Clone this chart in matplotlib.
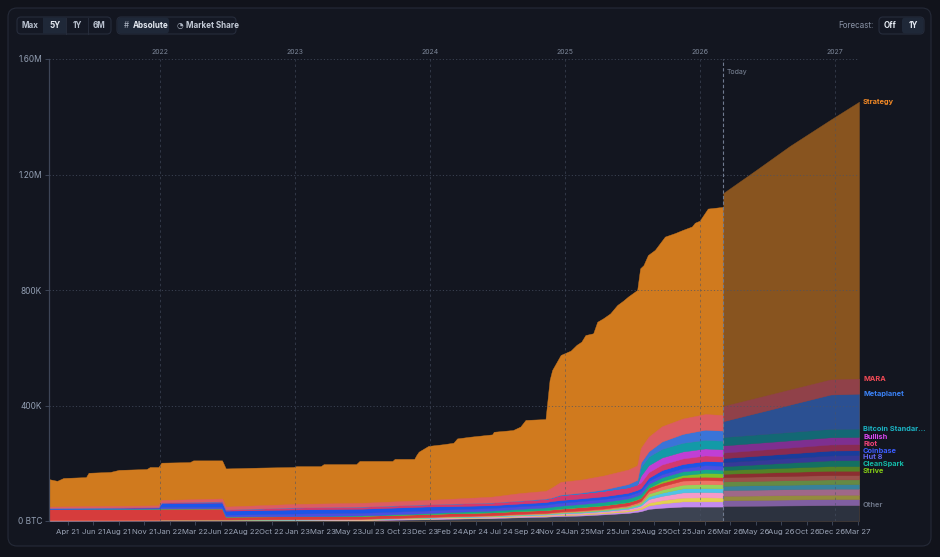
import matplotlib
matplotlib.use('Agg')
import matplotlib.pyplot as plt
import matplotlib.dates as mdates
import matplotlib.transforms as mtransforms
from matplotlib.colors import to_rgb
from matplotlib.patches import FancyBboxPatch
import numpy as np
import pandas as pd

plt.rcParams['font.family'] = ['Inter', 'DejaVu Sans']

# ---- data (thousand BTC) ----
# total corporate holdings (top of the Strategy band)
total_dates = ["2021-03-07", "2021-03-29", "2021-04-15", "2021-06-15", "2021-06-22", "2021-08-20",
               "2021-09-12", "2021-11-26", "2021-12-05", "2021-12-28", "2022-01-05", "2022-03-23",
               "2022-04-01", "2022-06-18", "2022-06-28", "2022-09-30", "2022-12-28", "2023-01-05",
               "2023-03-12", "2023-03-20", "2023-06-16", "2023-06-25", "2023-09-22", "2023-09-28",
               "2023-11-20", "2023-11-26", "2023-12-02", "2023-12-28", "2024-02-07", "2024-03-05",
               "2024-03-15", "2024-04-20", "2024-06-18", "2024-06-22", "2024-08-13", "2024-09-02",
               "2024-09-16", "2024-11-09", "2024-11-20", "2024-11-27", "2024-12-20", "2025-01-16",
               "2025-02-01", "2025-02-14", "2025-02-25", "2025-03-18", "2025-03-29", "2025-04-14",
               "2025-05-03", "2025-05-22", "2025-06-07", "2025-06-20", "2025-07-15", "2025-07-23",
               "2025-08-01", "2025-08-13", "2025-09-01", "2025-09-28", "2025-10-25", "2025-11-15",
               "2025-12-10", "2025-12-18", "2025-12-31", "2026-01-22", "2026-03-05"]
total_btc = [145, 139, 149, 152, 167, 170,
             177, 180, 187, 187, 202, 204,
             210, 210, 182, 185, 187, 190,
             190, 197, 197, 208, 208, 215,
             215, 229, 240, 260, 266, 271,
             286, 292, 300, 309, 315, 327,
             350, 353, 488, 523, 575, 590,
             610, 621, 644, 650, 690, 702,
             719, 748, 763, 777, 800, 875,
             886, 921, 939, 985, 997, 1008,
             1020, 1033, 1040, 1082, 1088]

# other holders, stacked from the bottom
layer_dates = ["2021-03-07", "2021-12-28", "2022-01-05", "2022-06-18", "2022-06-28", "2023-01-01",
               "2023-06-30", "2023-12-20", "2024-03-01", "2024-06-15", "2024-09-01", "2024-11-10",
               "2024-11-25", "2024-12-20", "2025-02-15", "2025-04-15", "2025-06-20", "2025-07-15",
               "2025-07-25", "2025-08-15", "2025-09-20", "2025-11-15", "2026-01-15", "2026-03-05"]
other = [1.5, 1.8, 2, 2, 2, 2.5, 3, 6, 8, 10, 13, 15, 16, 17, 19, 23, 28, 32, 34, 42, 46, 50, 50, 50]
galaxy = [0.5, 0.6, 0.6, 0.7, 0.7, 0.8, 1.0, 1.6, 1.8, 2.0, 2.4, 2.6, 2.8, 3.2, 3.6, 4.0, 5.2, 6.4, 7.2, 12, 15, 18, 18, 18]
gamestop = [0.4, 0.5, 0.5, 0.5, 0.5, 0.6, 0.8, 1.2, 1.4, 1.5, 1.8, 2.0, 2.1, 2.4, 2.7, 3.0, 3.9, 4.8, 5.4, 9, 11, 13, 14, 13]
semler = [0.5, 0.6, 0.7, 0.7, 0.7, 0.8, 1.0, 1.6, 1.8, 2.0, 2.4, 2.6, 2.8, 3.2, 3.6, 4.0, 5.2, 6.4, 7.2, 13, 15, 18, 18, 18]
block = [0.4, 0.4, 0.5, 0.5, 0.5, 0.6, 0.7, 1.2, 1.3, 1.5, 1.8, 1.9, 2.1, 2.4, 2.7, 3.0, 3.9, 4.8, 5.4, 9, 11, 14, 14, 14]
trump_media = [0.4, 0.5, 0.5, 0.5, 0.5, 0.6, 0.7, 1.2, 1.3, 1.5, 1.8, 1.9, 2.1, 2.4, 2.7, 3.0, 3.9, 4.8, 5.4, 10, 11, 13, 14, 14]
cango = [0.3, 0.4, 0.4, 0.5, 0.5, 0.6, 0.8, 1.2, 1.4, 1.5, 1.8, 2.0, 2.1, 2.4, 2.7, 3.0, 3.9, 4.8, 5.4, 9, 12, 14, 14, 13]
tesla = [38, 38, 38, 38, 10, 10, 10, 10, 10, 10, 10, 10, 10, 10, 11.5, 11.5, 11.5, 11.5, 11.5, 11.5, 11.5, 11.5, 11.5, 11.5]
strive = [0, 0, 0, 0, 0, 0, 0, 0, 0, 0, 0, 0, 0, 0, 0, 0, 0, 0, 0, 0, 5.9, 7.5, 13, 13.1]
cleanspark = [0.1, 0.3, 0.4, 0.5, 0.5, 0.5, 1.5, 3, 4.5, 6, 7, 9, 9.5, 10, 10.5, 11.5, 12.5, 12.6, 12.7, 12.8, 13, 13, 13, 13]
hut8 = [1.0, 2.0, 5, 6, 6, 9, 9, 9.1, 9.1, 9.1, 9.1, 9.1, 10, 10.2, 10.2, 10.3, 10.3, 10.3, 10.3, 10.4, 10.5, 10.7, 13.7, 13.7]
coinbase = [1.0, 1.5, 14, 14, 14, 14, 14, 14, 11, 9.5, 9.5, 9.5, 9.5, 9.5, 9.5, 9.3, 9.3, 9.3, 9.3, 11, 14.5, 14.5, 14.5, 14.5]
riot = [1.1, 1.5, 1.6, 4, 4, 7, 7.3, 7.4, 8.5, 9.3, 10, 10.9, 11, 16.7, 17.7, 19.2, 19.3, 19.3, 19.3, 19.3, 19.3, 19.3, 19.3, 18]
bullish = [0, 0, 0, 0, 0, 0, 0, 0, 0, 0, 0, 0, 0, 0, 0, 0, 0, 0, 24, 24.3, 24.3, 24.3, 24.3, 24.3]
bst = [0, 0, 0, 0, 0, 0, 0, 0, 0, 0, 0, 0, 0, 0, 0, 0, 0, 0, 30, 30, 30, 30, 30, 30]
metaplanet = [0, 0, 0, 0, 0, 0, 0, 0, 0, 0, 0, 1.0, 1.1, 1.8, 2.2, 4.5, 11, 15.5, 16, 18.1, 25.5, 30.8, 35.1, 35.1]
mara = [4.5, 6, 8.5, 10, 10, 12, 13, 15, 17, 20, 26, 27, 34, 44, 45, 48, 49.9, 50, 50, 50.6, 52.5, 53, 53.8, 53.8]

# forecast (1Y)
fc_total_dates = ["2026-03-05", "2026-06-01", "2026-09-01", "2026-12-20", "2027-03-07"]
fc_total = [1136, 1215, 1299, 1390, 1452]
fc_dates = ["2026-03-05", "2026-12-20", "2027-03-07"]
fc_other = [52, 55, 55]
fc_galaxy = [20, 21, 21]
fc_gamestop = [15, 15, 15]
fc_semler = [20, 21, 21]
fc_block = [15, 16, 16]
fc_trump_media = [15, 16, 16]
fc_cango = [15, 15, 15]
fc_tesla = [11.5, 15, 15]
fc_strive = [13.1, 16, 16]
fc_cleanspark = [13, 20, 21]
fc_hut8 = [13.7, 17, 17]
fc_coinbase = [14.5, 17, 17]
fc_riot = [19, 21, 21]
fc_bullish = [25, 25, 25]
fc_bst = [29, 29, 29]
fc_metaplanet = [55, 119, 121]
fc_mara = [52, 52, 52]

today = "2026-03-05"
xtick_labels = ["Apr 21", "Jun 21", "Aug 21", "Nov 21", "Jan 22", "Mar 22", "Jun 22", "Aug 22",
                "Oct 22", "Jan 23", "Mar 23", "May 23", "Jul 23", "Oct 23", "Dec 23", "Feb 24",
                "Apr 24", "Jul 24", "Sep 24", "Nov 24", "Jan 25", "Mar 25", "Jun 25", "Aug 25",
                "Oct 25", "Jan 26", "Mar 26", "May 26", "Aug 26", "Oct 26", "Dec 26", "Mar 27"]
years = [2022, 2023, 2024, 2025, 2026, 2027]

# ---- styles ----
BG = '#11131b'
CARD = '#131620'
BORDER = '#252a38'
GRID = '#4a5366'
STRAT = '#d07a1e'

# (name, history, forecast, fill colour, label colour or None)
layers = [
    ('Other', other, fc_other, '#3c4352', '#6b7385'),
    ('Galaxy', galaxy, fc_galaxy, '#c38bf0', None),
    ('GameStop', gamestop, fc_gamestop, '#e3d24f', None),
    ('Semler', semler, fc_semler, '#f59ac8', None),
    ('Block', block, fc_block, '#4fc3e6', None),
    ('Trump Media', trump_media, fc_trump_media, '#97d15a', None),
    ('Cango', cango, fc_cango, '#ee7466', None),
    ('Tesla', tesla, fc_tesla, '#d63c3c', None),
    ('Strive', strive, fc_strive, '#7cc42a', '#84cc16'),
    ('CleanSpark', cleanspark, fc_cleanspark, '#14a88a', '#14b8a6'),
    ('Hut 8', hut8, fc_hut8, '#4b4fe0', '#6366f1'),
    ('Coinbase', coinbase, fc_coinbase, '#1c55e8', '#3b5cff'),
    ('Riot', riot, fc_riot, '#d2386f', '#f0437a'),
    ('Bullish', bullish, fc_bullish, '#c03fd4', '#d946ef'),
    ('Bitcoin Standar...', bst, fc_bst, '#139aa7', '#1bb4c4'),
    ('Metaplanet', metaplanet, fc_metaplanet, '#3a74d8', '#3b82f6'),
    ('MARA', mara, fc_mara, '#dc5c62', '#f04a55'),
]


def dim(c, a=0.62):
    c1, c2 = np.array(to_rgb(c)), np.array(to_rgb(CARD))
    return tuple(a * c1 + (1 - a) * c2)


fig = plt.figure(figsize=(9.4, 5.57), dpi=100, facecolor=BG)

# pixel-space background axes for card and buttons
bg = fig.add_axes([0, 0, 1, 1], zorder=0)
bg.set_xlim(0, 940)
bg.set_ylim(557, 0)
bg.axis('off')


def box(x0, y0, x1, y1, fc, ec='none', r=4, lw=0.8):
    bg.add_patch(FancyBboxPatch((x0, y0), x1 - x0, y1 - y0,
                                boxstyle='round,pad=0,rounding_size=%s' % r,
                                fc=fc, ec=ec, lw=lw))


box(8, 8, 931, 546, CARD, BORDER, r=9)

# range buttons
box(17, 17, 111, 34, '#141824', '#262c3b', r=4)
box(43, 17.5, 66, 33.5, '#1f2838', r=0)
for sx in (66, 88):
    bg.plot([sx, sx], [17.5, 33.5], color='#262c3b', lw=0.7)
for tx, t, c in [(30, 'Max', '#b8c0ce'), (55, '5Y', '#e6ebf3'), (77, '1Y', '#b8c0ce'), (99, '6M', '#b8c0ce')]:
    bg.text(tx, 25.5, t, ha='center', va='center', fontsize=5.8, color=c, fontweight='bold')

# absolute / market share
box(117, 17, 236, 34, '#141824', '#262c3b', r=4)
box(117.5, 17.5, 169, 33.5, '#1f2838', r=3.5)
bg.text(126.5, 25.5, '#', ha='center', va='center', fontsize=5.8, color='#aeb6c4')
bg.text(133, 25.5, 'Absolute', ha='left', va='center', fontsize=5.8, color='#e6ebf3', fontweight='bold')
bg.text(179.5, 25.8, '\u25d4', ha='center', va='center', fontsize=5.5, color='#aeb6c4',
        family='DejaVu Sans')
bg.text(186, 25.5, 'Market Share', ha='left', va='center', fontsize=5.8, color='#c3cad6', fontweight='bold')

# forecast toggle
bg.text(874, 25.5, 'Forecast:', ha='right', va='center', fontsize=5.8, color='#8a93a6')
box(879, 17, 924, 34, '#141824', '#262c3b', r=4)
box(902, 17.5, 923.5, 33.5, '#1f2838', r=3.5)
bg.text(890, 25.5, 'Off', ha='center', va='center', fontsize=5.8, color='#e6ebf3', fontweight='bold')
bg.text(913, 25.5, '1Y', ha='center', va='center', fontsize=5.8, color='#e6ebf3', fontweight='bold')

# ---- main chart ----
ax = fig.add_axes([49 / 940, 36 / 557, 810 / 940, 462 / 557], zorder=1)
ax.set_facecolor('none')

td = pd.to_datetime(total_dates)
ld = pd.to_datetime(layer_dates)
ftd = pd.to_datetime(fc_total_dates)
fd = pd.to_datetime(fc_dates)

# Strategy is the band between the other holders and the total
ax.fill_between(td, 0, total_btc, color=STRAT, lw=0.3, edgecolor=STRAT, zorder=1)
ax.stackplot(ld, *[l[1] for l in layers], colors=[l[3] for l in layers],
             lw=0.3, edgecolor='face', zorder=2)

ax.fill_between(ftd, 0, fc_total, color=dim(STRAT), lw=0.3, edgecolor=dim(STRAT), zorder=1)
ax.stackplot(fd, *[l[2] for l in layers], colors=[dim(l[3]) for l in layers],
             lw=0.3, edgecolor='face', zorder=2)

x0 = pd.Timestamp('2021-03-07')
x1 = pd.Timestamp('2027-03-07')
ax.set_xlim(x0, x1)
ax.set_ylim(0, 1600)

# grid
for yv in (400, 800, 1200, 1600):
    ax.axhline(yv, color=GRID, lw=0.7, ls=(0, (1.2, 2.2)), alpha=0.7, zorder=5)
top_tr = mtransforms.blended_transform_factory(ax.transData, ax.transAxes)
for y in years:
    d = pd.Timestamp('%d-01-01' % y)
    ax.axvline(d, color=GRID, lw=0.7, ls=(0, (2.5, 3)), alpha=0.55, zorder=5)
    ax.text(d, 1.008, str(y), transform=top_tr, ha='center', va='bottom',
            fontsize=5, color='#7d8799')

# today marker
tday = pd.Timestamp(today)
ax.axvline(tday, color='#6f7a8f', lw=0.8, ls=(0, (3, 2)), zorder=6)
ax.text(tday + pd.Timedelta(days=9), 0.972, 'Today', transform=top_tr,
        ha='left', va='center', fontsize=5, color='#7d8799')

# axes styling
for s in ('top', 'right', 'bottom'):
    ax.spines[s].set_visible(False)
ax.spines['left'].set_color('#3d4557')
ax.spines['left'].set_linewidth(0.9)
ax.set_yticks([0, 400, 800, 1200, 1600])
ax.set_yticklabels(['0 BTC', '400K', '800K', '1.20M', '1.60M'])
tick_pos = np.linspace(mdates.date2num(pd.Timestamp('2021-04-27')),
                       mdates.date2num(pd.Timestamp('2027-03-04')), len(xtick_labels))
ax.set_xticks(tick_pos)
ax.set_xticklabels(xtick_labels)
ax.tick_params(axis='y', length=3, width=0.7, color='#3d4557', labelsize=6,
               labelcolor='#94a0b4', pad=2)
ax.tick_params(axis='x', length=3, width=0.7, color='#3d4557', labelsize=5.6,
               labelcolor='#9aa3b5', pad=2.5)

# end-of-series labels at band tops, pushed apart
tops = np.cumsum([l[2][-1] for l in layers])
lab = [('Strategy', fc_total[-1], '#f58a25')]
for (name, h, f, c, lc), t in reversed(list(zip(layers, tops))):
    if lc:
        lab.append((name, t, lc))
gap = 23
prev = None
lab_tr = mtransforms.blended_transform_factory(ax.transAxes, ax.transData)
for name, y, c in lab:
    if prev is not None and y > prev - gap:
        y = prev - gap
    prev = y
    ax.text(1.005, y, name, transform=lab_tr, ha='left', va='center',
            fontsize=5.3, color=c, fontweight='bold', clip_on=False)

fig.savefig('out.png', dpi=100, facecolor=BG)
